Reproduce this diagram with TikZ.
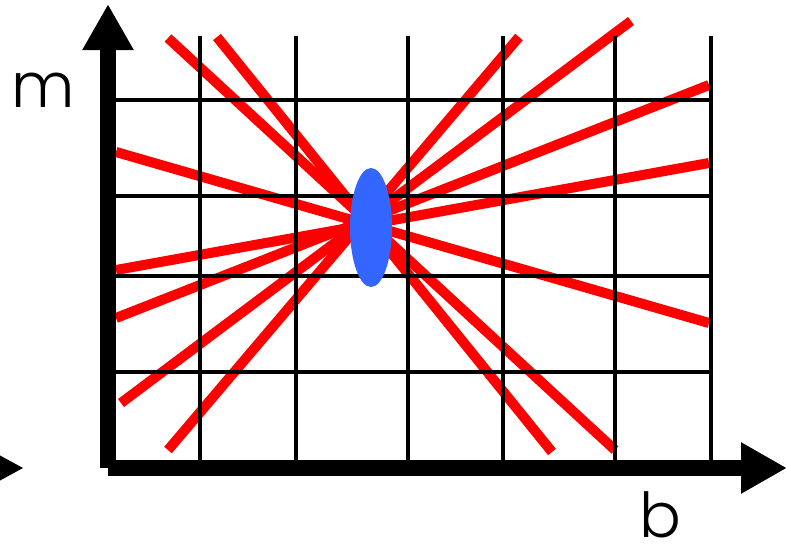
\documentclass[tikz,border=0pt]{standalone}
\usepackage{fontspec}
\setmainfont{Poppins Light}
\usepackage{xcolor}
\usepackage{tikz}
\usetikzlibrary{arrows.meta}
\usetikzlibrary{shapes.geometric}
\definecolor{vermelho}{RGB}{255,0,0}
\definecolor{azul}{RGB}{51,102,255}
\tikzset{
  eixo/.style={line width=16pt, -{Triangle[length=46pt,width=48pt]}},
  grade/.style={line width=4pt, black},
  reta/.style={line width=10pt, vermelho},
  rotulo/.style={font=\fontsize{62}{62}\selectfont, inner sep=0pt, anchor=base},
}

\begin{document}
\begin{tikzpicture}[x=1pt, y=-1pt]
  \useasboundingbox (0,0) rectangle (787,549);
  % retas que passam pelo pico
  \draw[reta] (168,38) -- (615,450);
  \draw[reta] (217,37) -- (552,452);
  \draw[reta] (519,37) -- (168,450);
  \draw[reta] (631,21) -- (121,403);
  \draw[reta] (116,152) -- (709,323);
  \draw[reta] (116,270) -- (709,163);
  \draw[reta] (116,318) -- (709,85);
  % grade
  \foreach \x in {200,296,408,503,615,711}
    \draw[grade] (\x,36) -- (\x,462);
  \foreach \y in {100,196,276,372}
    \draw[grade] (116,\y) -- (713,\y);
  \node[ellipse, fill=azul, minimum width=42pt, minimum height=119pt, inner sep=0pt] (pico) at (371,227.5) {};
  % eixos
  \coordinate (origem) at (108,468);
  \coordinate (topo) at (108,4);
  \coordinate (fim) at (787,468);
  \draw[eixo] (origem) -- (topo);
  \draw[eixo] (origem) -- (fim);
  \fill (23,468) -- (-21,444) -- (-21,492) -- cycle;
  \node[rotulo] (m) at (43,107) {m};
  \node[rotulo] (b) at (660,537) {b};
\end{tikzpicture}
\end{document}
